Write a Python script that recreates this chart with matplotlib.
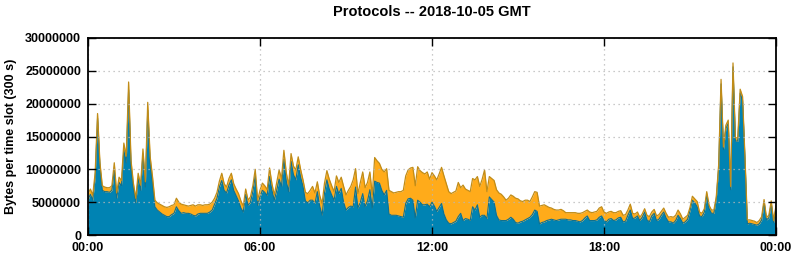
import matplotlib
matplotlib.use("Agg")
import matplotlib.pyplot as plt
import numpy as np

# bytes per 5 minute slot, in millions
total_mb = [
    6.3, 7.0, 6.1, 9.5, 18.5, 11.0, 7.5, 7.3, 7.2, 7.2, 7.5, 11.0,
    6.4, 8.8, 8.3, 14.0, 12.0, 23.3, 11.4, 7.9, 5.6, 9.4, 7.6, 13.1,
    8.1, 20.2, 12.0, 8.9, 5.3, 4.9, 4.7, 4.5, 4.3, 4.2, 4.3, 4.5,
    4.6, 5.6, 5.0, 4.7, 4.6, 4.5, 4.4, 4.5, 4.6, 4.4, 4.6, 4.6,
    4.5, 4.6, 4.6, 4.7, 5.0, 5.6, 6.5, 8.2, 9.4, 7.8, 7.3, 8.6,
    9.4, 7.8, 7.0, 6.3, 5.2, 4.4, 7.0, 5.3, 5.8, 7.5, 10.0, 5.3,
    6.8, 7.9, 7.5, 6.9, 10.2, 7.8, 6.1, 8.0, 9.9, 8.6, 12.9, 9.5,
    7.6, 12.4, 10.5, 9.9, 11.9, 10.0, 8.4, 6.5, 6.3, 6.8, 7.4, 6.4,
    8.1, 6.0, 4.8, 7.9, 9.8, 8.5, 7.5, 6.6, 9.0, 8.0, 8.8, 7.4,
    6.1, 6.8, 7.4, 8.4, 10.1, 6.3, 8.0, 9.6, 7.2, 8.0, 9.6, 6.1,
    11.8, 11.3, 10.9, 10.0, 9.6, 10.1, 6.8, 6.6, 6.4, 6.5, 6.6, 6.6,
    6.8, 9.0, 9.9, 10.2, 10.3, 7.5, 10.4, 9.8, 9.5, 9.3, 9.6, 8.5,
    9.5, 9.0, 8.4, 9.3, 10.3, 9.0, 7.8, 6.6, 6.3, 6.5, 6.7, 8.0,
    7.2, 7.6, 7.0, 6.8, 6.6, 8.6, 8.4, 8.9, 7.4, 8.5, 9.9, 6.6,
    8.9, 8.6, 8.3, 6.9, 6.4, 6.2, 5.8, 5.3, 5.6, 6.1, 5.9, 5.6,
    5.5, 5.2, 5.1, 5.3, 5.3, 5.1, 5.8, 6.6, 6.5, 4.4, 4.5, 4.6,
    4.4, 4.2, 4.1, 3.9, 3.8, 3.8, 3.9, 3.7, 3.4, 3.4, 3.4, 3.4,
    3.4, 3.3, 3.3, 3.4, 3.6, 3.8, 3.5, 3.4, 3.5, 3.6, 4.1, 4.3,
    3.5, 3.3, 3.5, 3.6, 3.4, 3.4, 3.6, 3.7, 3.0, 3.1, 3.8, 4.7,
    3.3, 3.2, 3.5, 2.7, 3.2, 4.0, 3.0, 2.8, 3.5, 3.9, 2.9, 3.1,
    3.6, 4.1, 3.3, 2.7, 2.8, 2.7, 3.0, 3.8, 3.2, 2.4, 2.7, 3.0,
    4.2, 5.9, 5.5, 5.1, 3.5, 3.3, 4.0, 6.6, 4.5, 3.8, 3.8, 5.8,
    10.7, 23.7, 13.4, 16.7, 17.5, 7.4, 26.2, 14.8, 14.8, 22.2, 21.1, 12.0,
    2.3, 2.3, 2.2, 2.1, 1.9, 2.2, 2.8, 5.4, 2.7, 3.0, 5.2, 2.2,
    4.5,
]
blue_mb = [
    5.4, 6.2, 5.3, 8.8, 17.8, 10.3, 6.8, 6.6, 6.6, 6.5, 6.8, 9.9,
    5.6, 8.0, 7.5, 12.9, 11.0, 22.1, 10.4, 7.1, 4.9, 8.6, 6.8, 12.3,
    7.3, 19.0, 11.0, 7.9, 4.3, 3.8, 3.5, 3.2, 3.0, 2.8, 2.8, 3.1,
    3.3, 4.3, 3.7, 3.3, 3.4, 3.3, 3.3, 3.2, 3.0, 2.9, 3.2, 3.3,
    3.3, 3.3, 3.3, 3.5, 3.8, 4.7, 5.6, 7.3, 8.3, 6.8, 6.4, 7.6,
    8.4, 6.8, 6.0, 5.2, 4.1, 3.5, 6.2, 4.5, 5.0, 6.6, 9.0, 4.5,
    5.8, 6.8, 6.5, 6.0, 8.9, 6.8, 5.3, 6.8, 8.5, 7.4, 11.5, 8.2,
    6.6, 11.2, 9.2, 8.4, 10.7, 8.8, 7.4, 5.2, 4.9, 5.3, 5.3, 4.8,
    6.6, 4.4, 3.0, 6.4, 8.4, 7.0, 6.1, 5.3, 7.4, 6.3, 7.1, 5.0,
    3.8, 4.2, 4.4, 4.3, 7.3, 4.1, 5.0, 6.3, 4.3, 5.2, 6.9, 4.1,
    8.2, 8.0, 7.9, 6.8, 6.1, 6.8, 3.2, 3.0, 3.0, 3.0, 2.9, 2.8,
    2.7, 4.8, 5.5, 5.6, 5.3, 2.6, 5.3, 5.0, 4.6, 4.6, 4.7, 4.3,
    5.0, 4.4, 3.6, 4.2, 4.8, 3.2, 2.3, 1.8, 1.7, 1.9, 2.1, 2.8,
    3.3, 2.2, 2.5, 2.4, 2.2, 4.3, 3.8, 4.6, 2.7, 3.0, 3.0, 2.5,
    5.8, 5.4, 5.0, 3.0, 2.3, 2.2, 2.2, 2.2, 2.4, 2.7, 2.4, 1.9,
    1.8, 2.0, 2.1, 2.3, 2.5, 2.7, 3.1, 3.8, 3.6, 1.7, 1.9, 2.0,
    2.2, 2.3, 2.4, 2.3, 2.2, 2.3, 2.4, 2.4, 2.4, 2.3, 2.3, 2.2,
    2.2, 2.1, 2.0, 2.2, 2.6, 2.9, 2.2, 2.2, 2.2, 2.3, 2.7, 2.9,
    2.2, 2.0, 2.4, 2.5, 2.2, 2.3, 2.6, 2.7, 2.0, 2.1, 3.0, 3.8,
    2.5, 2.6, 2.9, 2.2, 2.7, 3.5, 2.3, 2.0, 2.9, 3.3, 2.2, 2.4,
    3.0, 3.5, 2.6, 2.0, 2.0, 1.8, 2.2, 3.0, 2.5, 1.8, 2.0, 2.4,
    3.7, 5.3, 4.9, 4.3, 2.9, 2.8, 3.5, 6.1, 4.0, 3.3, 3.3, 5.5,
    10.3, 23.0, 13.0, 16.2, 17.0, 6.9, 25.6, 14.3, 14.3, 21.6, 20.5, 11.5,
    1.7, 1.8, 1.7, 1.6, 1.5, 1.7, 2.3, 5.0, 2.3, 2.6, 4.8, 1.9,
    4.1,
]
xtick_labels = ["00:00", "06:00", "12:00", "18:00", "00:00"]
ytick_values = [0, 5000000, 10000000, 15000000, 20000000, 25000000, 30000000]

total = np.array(total_mb) * 1e6
blue = np.array(blue_mb) * 1e6
hours = np.arange(len(total)) * 5 / 60.0

plt.rcParams["font.family"] = ["Liberation Sans", "DejaVu Sans"]
plt.rcParams["font.weight"] = "bold"

fig = plt.figure(figsize=(7.94, 2.60), dpi=100)
ax = fig.add_axes([88 / 794, 25 / 260, 688 / 794, 197 / 260])

ax.fill_between(hours, 0, blue, color="#0083b3", lw=0)
ax.fill_between(hours, blue, total, color="#ffab1a", lw=0)
ax.plot(hours, blue, color="#10708e", lw=0.8)
ax.plot(hours, total, color="#c08c18", lw=0.9)

ax.set_xlim(0, 24)
ax.set_ylim(0, 30000000)
ax.set_xticks([0, 6, 12, 18, 24])
ax.set_xticklabels(xtick_labels)
ax.set_yticks(ytick_values)
ax.set_yticklabels([str(v) for v in ytick_values])
ax.tick_params(direction="in", length=6, width=1, top=True, right=True,
               labelsize=9, pad=5)
for lab in ax.get_xticklabels() + ax.get_yticklabels():
    lab.set_fontweight("bold")

ax.grid(True, color="#b8b8b8", linestyle=(0, (1, 3)), lw=0.9)
ax.set_axisbelow(False)
for s in ax.spines.values():
    s.set_linewidth(1.3)
    s.set_zorder(5)

ax.set_ylabel("Bytes per time slot (300 s)", fontsize=9, fontweight="bold",
              labelpad=6)
fig.text(432 / 794, 1 - 12 / 260, "Protocols -- 2018-10-05 GMT", ha="center",
         va="center", fontsize=10.5, fontweight="bold")

fig.savefig("out.png", dpi=100)
